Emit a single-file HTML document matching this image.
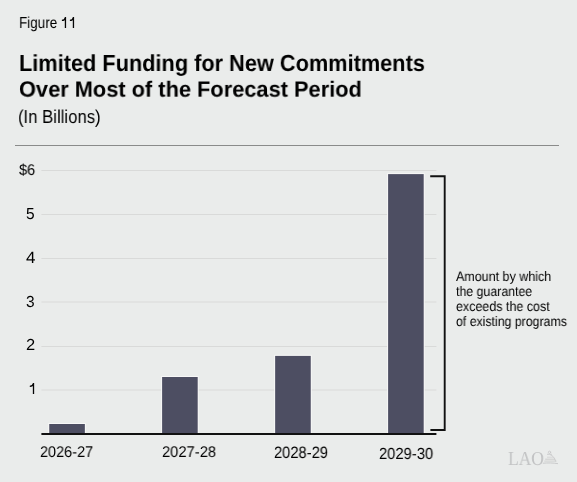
<!DOCTYPE html>
<html><head><meta charset="utf-8">
<style>
html,body{margin:0;padding:0;}
body{width:577px;height:482px;background:#eaeceb;position:relative;overflow:hidden;font-family:"Liberation Sans",sans-serif;color:#000;text-rendering:geometricPrecision;}
.t{position:absolute;white-space:nowrap;line-height:1;transform-origin:0 0;will-change:transform;}
svg{position:absolute;left:0;top:0;}
</style></head><body>
<svg width="577" height="482" viewBox="0 0 577 482">
  <rect x="15" y="145" width="544" height="1" fill="#8a8b8a"/>
  <g fill="#d9dad9">
    <rect x="41.4" y="170" width="395" height="1"/>
    <rect x="41.4" y="214" width="395" height="1"/>
    <rect x="41.4" y="258" width="395" height="1"/>
    <rect x="41.4" y="301.5" width="395" height="1"/>
    <rect x="41.4" y="346" width="395" height="1"/>
    <rect x="41.4" y="389.5" width="395" height="1"/>
  </g>
  <g fill="#f7f7f7">
    <rect x="48.25" y="423.00" width="37.60" height="10.00"/>
    <rect x="161.10" y="376.00" width="37.60" height="57.00"/>
    <rect x="274.15" y="354.90" width="37.60" height="78.10"/>
    <rect x="387.10" y="173.10" width="37.60" height="259.90"/>
  </g>
  <g fill="#4d4e62">
    <rect x="49.25" y="424.00" width="35.60" height="9.00"/>
    <rect x="162.10" y="377.00" width="35.60" height="56.00"/>
    <rect x="275.15" y="355.90" width="35.60" height="77.10"/>
    <rect x="388.10" y="174.10" width="35.60" height="258.90"/>
  </g>
  <rect x="41.4" y="433" width="395" height="2" fill="#111"/>
  <path d="M430.2 176.3 H444.7 V430 H430.4" fill="none" stroke="#111" stroke-width="1.9"/>
  <g fill="none" stroke="#050505" stroke-width="1.3">
    <path d="M65.45 17 V27.9 M65.45 17.3 C65 19.3 64 20.4 61.9 20.4"/>
    <path d="M73.45 17 V27.9 M73.45 17.3 C73 19.3 72 20.4 69.9 20.4"/>
    <path d="M33.5 383 V393.9 M33.5 383.3 C33.05 385.3 32 386.3 29.8 386.3"/>
  </g>
  <g fill="none" stroke="#c9cacb" stroke-width="0.9" stroke-linecap="round">
    <path d="M550.6 454.9 C552.6 455.4 554.6 457.6 555.6 461.2" stroke-width="0.9"/>
    <circle cx="549.5" cy="452.3" r="1.15"/>
    <path d="M547.4 454.3 H551.6"/>
    <path d="M547.4 457.2 H553" stroke-width="0.6"/>
    <path d="M545.6 459.2 H554.8" stroke-width="0.9"/>
    <path d="M544.6 461.1 H556" stroke-width="0.8"/>
    <path d="M543.2 463.2 C548 462.8 553 462.8 557.6 463.6" stroke-width="1"/>
  </g>
</svg>

<div class="t" style="left:18.63px;top:16.00px;font-size:16.00px;transform:scale(0.8422,1.0000)">Figure</div>
<div class="t" style="left:18.53px;top:52.00px;font-size:22.60px;font-weight:bold;transform:scale(0.9623,1.0300)">Limited Funding for New Commitments</div>
<div class="t" style="left:19.03px;top:79.00px;font-size:22.60px;font-weight:bold;transform:scale(0.9648,0.9800)">Over Most of the Forecast Period</div>
<div class="t" style="left:18.32px;top:108.00px;font-size:18.40px;transform:scale(0.9085,1.0200)">(In Billions)</div>
<div class="t" style="left:18.53px;top:163.00px;font-size:15.50px;transform:scale(0.9440,0.9900)">$6</div>
<div class="t" style="left:26.06px;top:207.00px;font-size:15.50px;transform:scale(0.9929,1.0300)">5</div>
<div class="t" style="left:26.42px;top:250.00px;font-size:15.50px;transform:scale(1.0968,1.0500)">4</div>
<div class="t" style="left:26.08px;top:295.00px;font-size:15.50px;transform:scale(0.9999,1.0300)">3</div>
<div class="t" style="left:25.78px;top:338.00px;font-size:15.50px;transform:scale(1.0638,1.0300)">2</div>
<div class="t" style="left:39.97px;top:445.00px;font-size:15.50px;transform:scale(0.9334,1.0000)">2026-27</div>
<div class="t" style="left:161.76px;top:445.00px;font-size:15.50px;transform:scale(0.9507,1.0000)">2027-28</div>
<div class="t" style="left:273.86px;top:445.00px;font-size:15.50px;transform:scale(0.9489,1.0600)">2028-29</div>
<div class="t" style="left:378.66px;top:446.00px;font-size:15.50px;transform:scale(0.9522,1.0400)">2029-30</div>
<div class="t" style="left:455.87px;top:270.00px;font-size:13.20px;transform:scale(0.9483,1.0400)">Amount by which</div>
<div class="t" style="left:455.54px;top:284.00px;font-size:13.20px;transform:scale(0.9362,1.0500)">the guarantee</div>
<div class="t" style="left:455.53px;top:299.00px;font-size:13.20px;transform:scale(0.9472,1.0500)">exceeds the cost</div>
<div class="t" style="left:455.55px;top:314.00px;font-size:13.20px;transform:scale(0.9339,1.0500)">of existing programs</div>
<div class="t" style="left:508.42px;top:450.00px;font-size:19.60px;font-family:'Liberation Serif',serif;color:#c2c3c4;transform:scale(0.8928,1.0100)">LAO</div>
</body></html>
